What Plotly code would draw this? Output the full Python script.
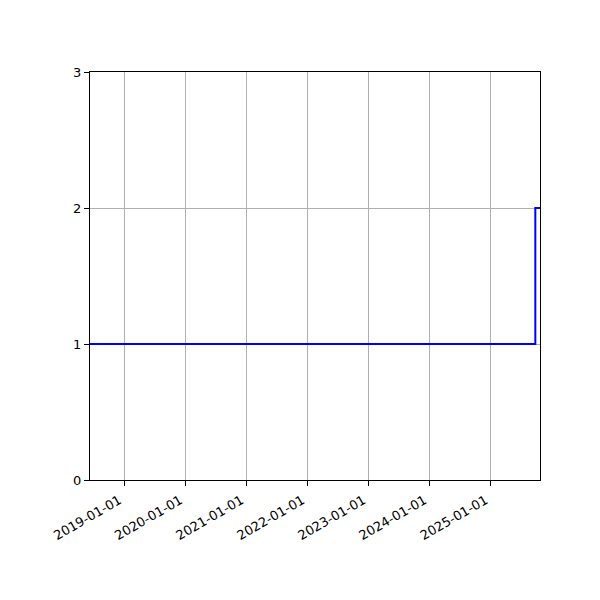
import plotly.graph_objects as go

# step series
dates = ["2018-06-10", "2025-09-25", "2025-10-23"]
values = [1, 2, 2]

tick_dates = ["2019-01-01", "2020-01-01", "2021-01-01", "2022-01-01",
              "2023-01-01", "2024-01-01", "2025-01-01"]
y_ticks = [0, 1, 2, 3]

fig = go.Figure()
fig.add_trace(
    go.Scatter(
        x=dates,
        y=values,
        mode="lines",
        line=dict(color="#0000ff", width=2, shape="hv"),
        showlegend=False,
    )
)

axis_common = dict(
    showline=True,
    linecolor="black",
    linewidth=1,
    mirror=True,
    ticks="outside",
    ticklen=5,
    tickcolor="black",
    showgrid=True,
    gridcolor="#b0b0b0",
    gridwidth=1,
    zeroline=False,
    tickfont=dict(family="DejaVu Sans", size=13, color="black"),
)

fig.update_xaxes(
    range=[dates[0], dates[-1]],
    tickvals=tick_dates,
    ticktext=tick_dates,
    tickangle=-30,
    ticklabelshift=-5,
    ticklabelstandoff=2,
    **axis_common,
)
fig.update_yaxes(range=[0, 3], tickvals=y_ticks, **axis_common)

# page body adds ~8px offset, so margins are shifted to compensate
fig.update_layout(
    width=600,
    height=600,
    margin=dict(l=82, r=68, t=64, b=128),
    plot_bgcolor="white",
    paper_bgcolor="white",
)

fig.write_html("out.html")
